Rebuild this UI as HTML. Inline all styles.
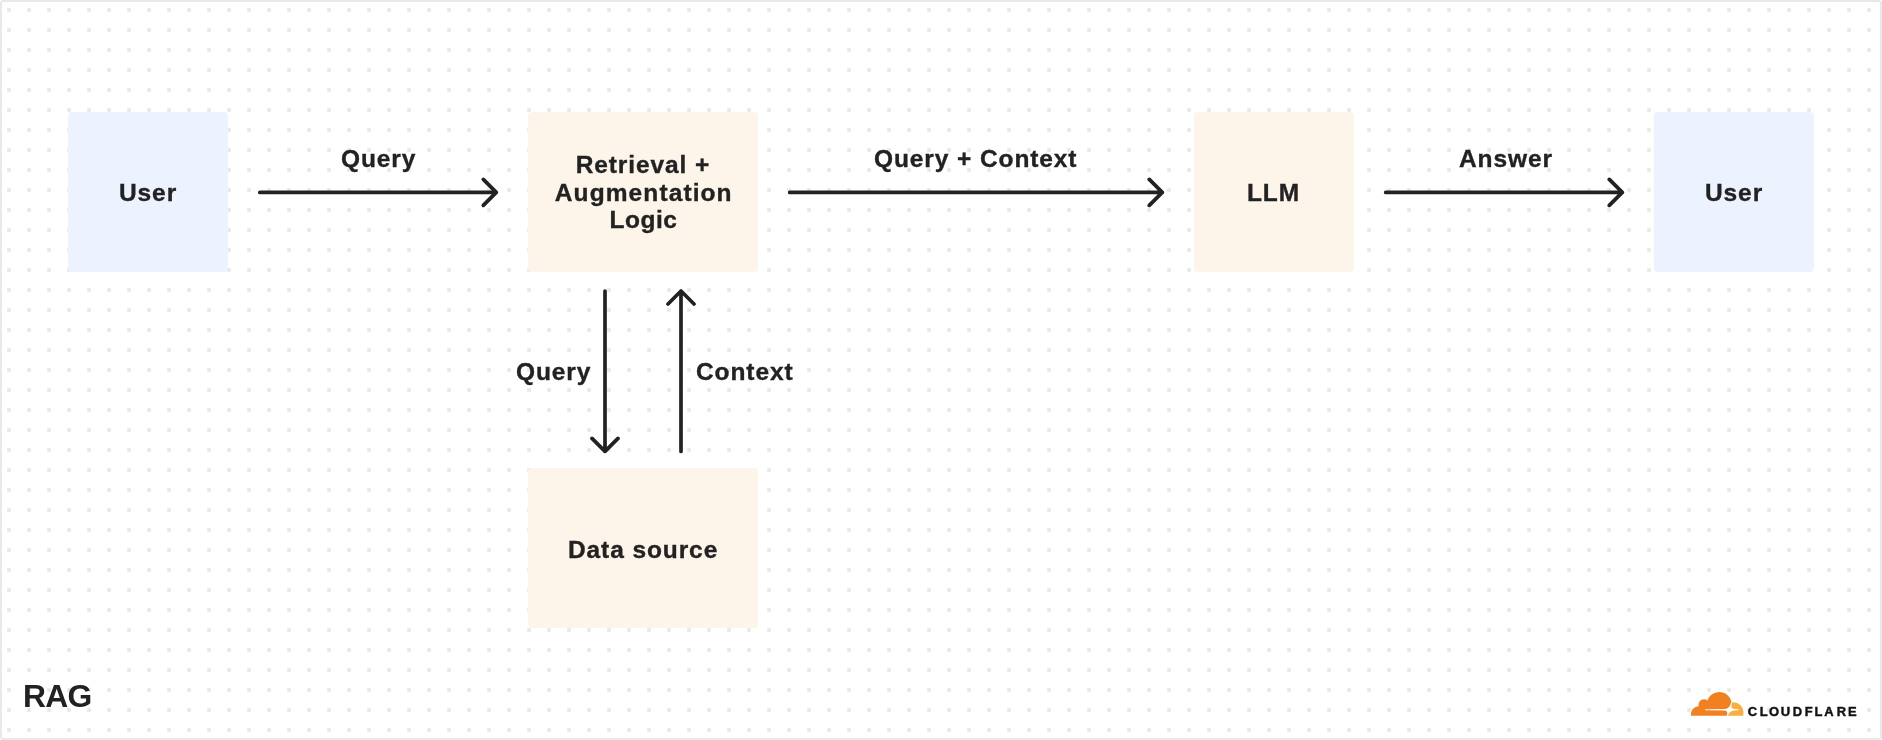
<!DOCTYPE html>
<html>
<head>
<meta charset="utf-8">
<style>
html,body{margin:0;padding:0;background:#fff;}
body{width:1882px;height:740px;position:relative;overflow:hidden;font-family:"Liberation Sans",sans-serif;}
.box span,.lbl,#rag,#cfsvg{will-change:transform;}
.box span,.lbl{-webkit-text-stroke:0.35px #222;}
#frame{position:absolute;left:0;top:0;width:1878px;height:736px;border:2px solid #e8e8e8;border-radius:3.5px;}
#bg{position:absolute;left:0;top:0;}
.box{position:absolute;border-radius:4px;display:flex;align-items:center;justify-content:center;text-align:center;
 font-weight:bold;font-size:24.5px;letter-spacing:0.9px;color:#222;line-height:27.7px;}
.box span{position:relative;top:0.8px;}
.blue{background:#ecf3fe;}
.peach{background:#fdf5e9;}
.lbl{position:absolute;font-weight:bold;font-size:24.5px;letter-spacing:0.9px;color:#222;white-space:nowrap;line-height:28px;}
#rag{position:absolute;left:23px;top:678.2px;font-size:31.8px;letter-spacing:-0.7px;font-weight:bold;color:#222;line-height:36px;}
</style>
</head>
<body>
<svg id="bg" width="1882" height="740">
 <defs>
  <pattern id="dots" x="0" y="0" width="20" height="20" patternUnits="userSpaceOnUse">
   <rect x="7" y="8" width="4" height="4" fill="#f1f1f1"/><rect x="7.5" y="8.5" width="3" height="3" fill="#e7e7e7"/>
  </pattern>
 </defs>
 <rect x="0" y="0" width="1882" height="740" fill="url(#dots)"/>
</svg>
<div id="frame"></div>

<div class="box blue" style="left:68px;top:112px;width:160px;height:160px;"><span>User</span></div>
<div class="box peach" style="left:528px;top:112px;width:230px;height:160px;"><span>Retrieval +<br><b style="font-weight:inherit;letter-spacing:1.1px;position:relative;left:0.8px">Augmentation</b><br><b style="font-weight:inherit;letter-spacing:0.5px;position:relative;left:0.5px">Logic</b></span></div>
<div class="box peach" style="left:1194px;top:112px;width:160px;height:160px;"><span>LLM</span></div>
<div class="box blue" style="left:1654px;top:112px;width:160px;height:160px;"><span>User</span></div>
<div class="box peach" style="left:528px;top:468px;width:230px;height:160px;"><span style="top:1.8px">Data source</span></div>

<svg id="cfsvg" style="position:absolute;left:0;top:0" width="1882" height="740">
 <g stroke="#222" stroke-width="3.7" stroke-linecap="round" stroke-linejoin="round" fill="none">
  <path d="M259.8 192.4H496.3M483.3 179.4L496.3 192.4L483.3 205.4"/>
  <path d="M789.7 192.4H1162.3M1149.3 179.4L1162.3 192.4L1149.3 205.4"/>
  <path d="M1385.7 192.4H1622.3M1609.3 179.4L1622.3 192.4L1609.3 205.4"/>
  <path d="M605 291V451.4M592 438.4L605 451.4L618 438.4"/>
  <path d="M681 451.4V291M668 304L681 291L694 304"/>
 </g>
 <rect x="1722" y="708" width="14" height="4" fill="#fff"/>
 <g id="cf" transform="translate(1691 677.64) scale(2.185)">
  <path id="cfbig" fill="#f38020" d="M16.5088 16.8447c.1475-.5068.0908-.9707-.1553-1.3154-.2246-.3164-.6045-.499-1.0615-.5205l-8.6592-.1123a.1559.1559 0 0 1-.1333-.0713c-.0283-.042-.0351-.0986-.021-.1553.0278-.084.1123-.1484.2036-.1562l8.7359-.1123c1.0351-.0489 2.1601-.8868 2.5537-1.9136l.499-1.3013c.0215-.0561.0293-.1128.0147-.168-.5625-2.5463-2.835-4.4453-5.5499-4.4453-2.5039 0-4.6284 1.6162-5.3876 3.8614-.4927-.3658-1.1187-.5625-1.794-.499-1.2026.119-2.1665 1.083-2.2861 2.2856-.0283.31-.0069.6128.0635.894C1.5683 13.171 0 14.7754 0 16.752c0 .1748.0142.3515.0352.5273.0141.083.0844.1475.1689.1475h15.9814c.0909 0 .1758-.0645.2032-.1553l.12-.4268z"/>
  <path id="cfsmall" fill="#faae40" d="M19.2656 11.2813c-.0771 0-.1611 0-.2383.0112-.0566 0-.1054.0415-.127.0976l-.3378 1.1744c-.1475.5068-.0918.9707.1543 1.3164.2256.3164.6055.498 1.0625.5195l1.8437.1133c.0557 0 .1055.0263.1329.0703.0283.043.0351.1074.0214.1562-.0283.084-.1132.1485-.204.1553l-1.921.1123c-1.041.0488-2.1582.8867-2.5527 1.914l-.1406.3585c-.0283.0713.0215.1416.0986.1416h6.5977c.0771 0 .1474-.0489.169-.126.1122-.4082.1757-.837.1757-1.2803 0-2.6025-2.125-4.727-4.7344-4.727"/>
 </g>
 <text id="cfw" transform="translate(1747.7 716) scale(1.03 1)" x="0.00 11.75 20.58 32.14 43.79 55.34 64.76 74.27 86.50 97.38" y="0" font-family="Liberation Sans" font-weight="bold" font-size="12.6" fill="#111" stroke="#111" stroke-width="0.4">CLOUDFLARE</text>
</svg>

<div class="lbl" style="left:341px;top:144.6px;">Query</div>
<div class="lbl" style="left:874px;top:144.6px;">Query + Context</div>
<div class="lbl" style="left:1459px;top:144.6px;">Answer</div>
<div class="lbl" style="left:516px;top:357.7px;">Query</div>
<div class="lbl" style="left:696px;top:357.7px;">Context</div>

<div id="rag">RAG</div>

</body>
</html>
